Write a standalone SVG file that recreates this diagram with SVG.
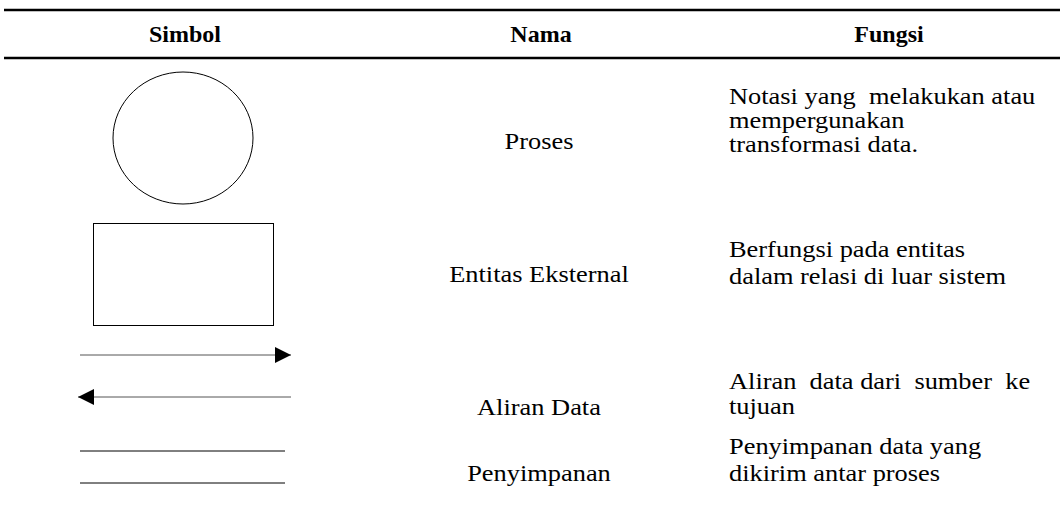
<svg xmlns="http://www.w3.org/2000/svg" width="1060" height="511" viewBox="0 0 1060 511">
<style>
  text { font-family: 'Liberation Serif', 'Times New Roman', Tinos, serif; fill: #000; }
  .hd { font-size: 24px; font-weight: bold; text-anchor: middle; }
  .nm { font-size: 24px; text-anchor: middle; }
  .fn { font-size: 24px; }
  .rule { stroke: #000; stroke-width: 2.5; }
  .shape { fill: none; stroke: #000; stroke-width: 1; }
  .flow { stroke: #555; stroke-width: 1; fill: none; }
</style>
<defs>
  <marker id="ah" viewBox="0 0 16 16" refX="16" refY="8" markerWidth="16" markerHeight="16" markerUnits="userSpaceOnUse" orient="auto">
    <path d="M0,0 L16,8 L0,16 Z" fill="#000"/>
  </marker>
</defs>
<g id="header">
  <line class="rule" x1="4" y1="10" x2="1060" y2="10"/>
  <line class="rule" x1="4" y1="58" x2="1060" y2="58"/>
  <text class="hd" x="185" y="42">Simbol</text>
  <text class="hd" x="541" y="42">Nama</text>
  <text class="hd" x="889" y="42">Fungsi</text>
</g>
<g id="row-proses">
  <ellipse class="shape" cx="183" cy="138" rx="70" ry="66"/>
  <text class="nm" x="539" y="149" transform="matrix(1.1 0 0 1 -53.9 0)">Proses</text>
  <g transform="matrix(1.1 0 0 1 -72.9 0)">
    <text class="fn" x="729" y="104" xml:space="preserve">Notasi yang  melakukan atau</text>
    <text class="fn" x="729" y="128">mempergunakan</text>
    <text class="fn" x="729" y="152">transformasi data.</text>
  </g>
</g>
<g id="row-entitas">
  <rect class="shape" x="93.5" y="223.5" width="180" height="102"/>
  <text class="nm" x="539" y="282" transform="matrix(1.1 0 0 1 -53.9 0)">Entitas Eksternal</text>
  <g transform="matrix(1.1 0 0 1 -72.9 0)">
    <text class="fn" x="729" y="257">Berfungsi pada entitas</text>
    <text class="fn" x="729" y="284">dalam relasi di luar sistem</text>
  </g>
</g>
<g id="connectors">
  <line class="flow" x1="80" y1="355" x2="291" y2="355" marker-end="url(#ah)"/>
  <line class="flow" x1="291" y1="397" x2="78" y2="397" marker-end="url(#ah)"/>
</g>
<g id="row-aliran">
  <text class="nm" x="539" y="415" transform="matrix(1.1 0 0 1 -53.9 0)">Aliran Data</text>
  <g transform="matrix(1.1 0 0 1 -72.9 0)">
    <text class="fn" x="729" y="389" xml:space="preserve">Aliran  data dari  sumber  ke</text>
    <text class="fn" x="729" y="414">tujuan</text>
  </g>
</g>
<g id="row-penyimpanan">
  <line class="shape" x1="80" y1="451" x2="285" y2="451"/>
  <line class="shape" x1="80" y1="483" x2="285" y2="483"/>
  <text class="nm" x="539" y="481" transform="matrix(1.1 0 0 1 -53.9 0)">Penyimpanan</text>
  <g transform="matrix(1.1 0 0 1 -72.9 0)">
    <text class="fn" x="729" y="454">Penyimpanan data yang</text>
    <text class="fn" x="729" y="481">dikirim antar proses</text>
  </g>
</g>
</svg>
